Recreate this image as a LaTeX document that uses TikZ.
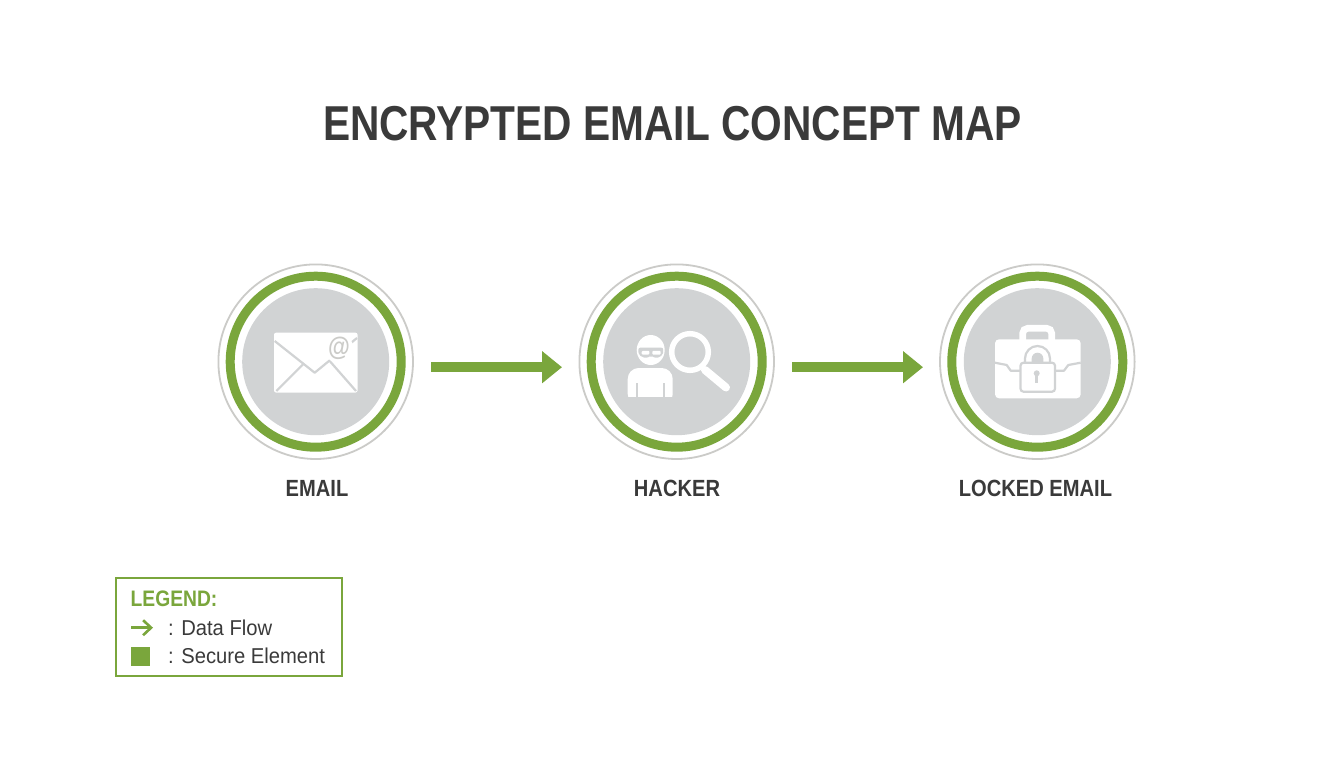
\documentclass[tikz,border=0pt]{standalone}
\usepackage{fontspec}
\setmainfont{Liberation Sans}[FakeStretch=0.86]
\newfontfamily\titlefont{Liberation Sans}[FakeStretch=0.83]
\newfontfamily\legendfont{Liberation Sans}[FakeStretch=0.94]
\usetikzlibrary{arrows.meta}
\definecolor{leaf}{HTML}{7AA63C}
\definecolor{disc}{HTML}{D1D3D4}
\definecolor{halo}{HTML}{CBCBC8}
\definecolor{ink}{HTML}{3A3A3A}
\tikzset{
  outerring/.style={circle,draw=halo,line width=1.8pt,fill=white,minimum size=194.6pt,inner sep=0pt,outer sep=0pt},
  greenring/.style={draw=leaf,line width=9pt},
  graydisc/.style={fill=disc},
  caption/.style={font=\fontsize{23.4}{28}\selectfont\bfseries,text=ink,inner sep=0pt},
  legendtext/.style={font=\legendfont\fontsize{21.5}{26}\selectfont,text=ink,inner sep=0pt,anchor=base west},
  flow/.style={draw=leaf,line width=10pt,-{Triangle[length=20pt,width=31pt]}},
  iconline/.style={draw=disc,line width=2.2pt},
}
\begin{document}
\begin{tikzpicture}[x=1pt,y=-1pt]
  \useasboundingbox (0,0) rectangle (1344,768);
  \fill[white] (0,0) rectangle (1344,768);
  \node[font=\titlefont\fontsize{49}{56}\selectfont\bfseries,text=ink,inner sep=0pt] (title) at (672.5,124) {ENCRYPTED EMAIL CONCEPT MAP};

  % circles
  \node[outerring] (email) at (315.7,361.7) {};
  \draw[greenring] (email.center) circle (85.5);
  \fill[graydisc] (email.center) circle (73.5);
  \node[outerring] (hacker) at (676.7,361.7) {};
  \draw[greenring] (hacker.center) circle (85.5);
  \fill[graydisc] (hacker.center) circle (73.5);
  \node[outerring] (locked) at (1037.3,361.7) {};
  \draw[greenring] (locked.center) circle (85.5);
  \fill[graydisc] (locked.center) circle (73.5);

  % envelope
  \fill[white,rounded corners=2pt] (274,332.7) rectangle (357.5,392.5);
  \draw[iconline,line join=round] (274.7,341) -- (314.7,372.7) -- (357,338);
  \draw[iconline] (276.3,391) -- (304,363.3);
  \draw[iconline] (356,391) -- (329.7,361);
  \fill[white] (339,348.7) circle (14.5);
  \node[font=\fontsize{26}{28}\selectfont\bfseries,text=halo,inner sep=0pt] (at) at (339,348.7) {@};

  % hacker and magnifier
  \fill[white] (650.7,350) ellipse (14 and 15);
  \fill[disc,rounded corners=2pt] (638.3,347.7) -- (663.3,347.7) -- (663,355) -- (656,358.5) -- (651,355.5) -- (646,358.5) -- (638.6,355) -- cycle;
  \fill[white,rounded corners=1pt] (641.7,350.8) rectangle (649.3,354.6);
  \fill[white,rounded corners=1pt] (652.3,350.8) rectangle (660.7,354.6);
  \fill[white,rounded corners=11pt] (627.7,405) -- (627.7,368) -- (672.7,368) -- (672.7,405) -- cycle;
  \fill[disc] (620,396.7) rectangle (680,406);
  \draw[iconline,line width=1.6pt] (636.7,383.3) -- (636.7,396.7);
  \draw[iconline,line width=1.6pt] (664,383.3) -- (664,396.7);
  \draw[white,line width=5.5pt] (690,352) circle (18.3);
  \draw[white,line width=8pt,line cap=round] (705,370) -- (726,387.5);

  % briefcase and padlock
  \draw[white,line width=6.7pt,rounded corners=5pt] (1022.7,342) -- (1022.7,328.3) -- (1051.7,328.3) -- (1051.7,342);
  \fill[white,rounded corners=4pt] (995,339.3) rectangle (1080.7,398.3);
  \draw[iconline,line join=round] (995,362.7) -- (1006.7,365) -- (1010.7,370.7) -- (1020.7,370.7);
  \draw[iconline,line join=round] (1080.7,362.7) -- (1068.3,365) -- (1064,370.7) -- (1055,370.7);
  \fill[disc] (1031.7,362.7) -- (1031.7,358.5) arc (180:360:5.8) -- (1043.3,362.7) -- cycle;
  \draw[iconline] (1025,362.7) -- (1025,358.5) arc (180:360:12.5) -- (1050,362.7);
  \draw[iconline,fill=white,rounded corners=3pt] (1020.5,362.7) rectangle (1055,391.7);
  \fill[disc] (1036.7,373.3) circle (3);
  \draw[disc,line width=2.7pt] (1036.7,374) -- (1036.7,383.3);

  % arrows
  \draw[flow,shorten <=18pt,shorten >=17.4pt] ([yshift=-5.5pt]email.east) -- ([yshift=-5.5pt]hacker.west);
  \draw[flow,shorten <=18pt,shorten >=17pt] ([yshift=-5.5pt]hacker.east) -- ([yshift=-5.5pt]locked.west);

  % labels
  \node[caption] (emaillabel) at (317,488) {EMAIL};
  \node[caption] (hackerlabel) at (677,488) {HACKER};
  \node[caption] (lockedlabel) at (1035.5,488) {LOCKED EMAIL};

  % legend
  \node[draw=leaf,line width=2pt,minimum width=226.6pt,minimum height=98.6pt,inner sep=0pt,outer sep=0pt] (legend) at (229,627) {};
  \node[font=\fontsize{22.4}{26}\selectfont\bfseries,text=leaf,inner sep=0pt,anchor=base west] (legendtitle) at (130.5,606.7) {LEGEND:};
  \coordinate (flowstart) at (131,627.7);
  \coordinate (flowend) at (153,627.7);
  \draw[leaf,line width=2.6pt,-{Straight Barb[length=8pt,width=15pt]}] (flowstart) -- (flowend);
  \node[legendtext] (flowtext) at (168,635) {: Data Flow};
  \node[fill=leaf,minimum size=19pt,inner sep=0pt] (securebox) at (140.2,656.2) {};
  \node[legendtext] (securetext) at (168,663.3) {: Secure Element};
\end{tikzpicture}
\end{document}
